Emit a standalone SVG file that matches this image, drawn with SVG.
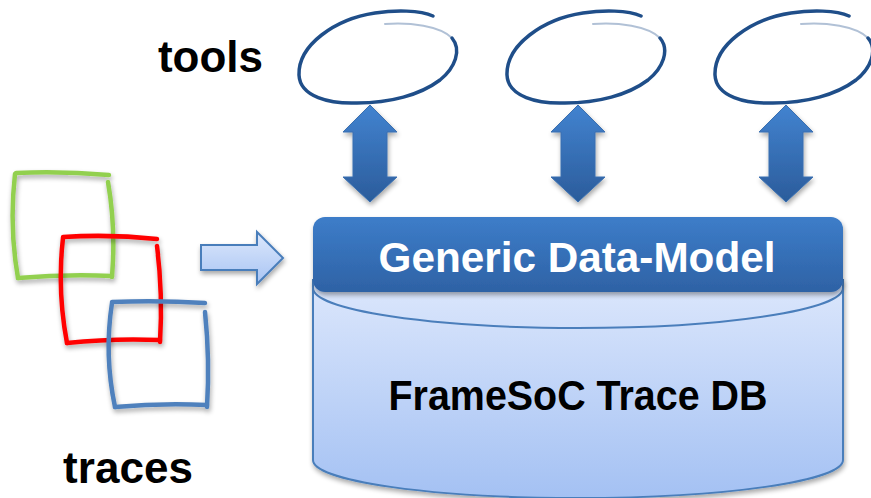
<svg xmlns="http://www.w3.org/2000/svg" xmlns:xlink="http://www.w3.org/1999/xlink" width="871" height="498" viewBox="0 0 871 498">
<style>
  .lbl{font-family:"Liberation Sans",Arial,sans-serif;font-weight:bold;}
  .loop{fill:none;stroke:#1f4e89;stroke-width:3.5;stroke-linecap:round;}
  .loopfade{fill:none;stroke:#1f4e89;stroke-width:2;stroke-linecap:round;opacity:0.35;}
  .sq{fill:none;stroke-width:4.5;stroke-linecap:round;}
  .dbl{fill:url(#gArrow);stroke:#3a6fb0;stroke-width:1;filter:url(#sh);}
</style>
<defs>
  <linearGradient id="gArrow" x1="0" y1="0" x2="0" y2="1">
    <stop offset="0" stop-color="#4283d0"/>
    <stop offset="1" stop-color="#2b5c9b"/>
  </linearGradient>
  <linearGradient id="gHead" x1="0" y1="0" x2="0" y2="1">
    <stop offset="0" stop-color="#3d7dc9"/>
    <stop offset="1" stop-color="#2e62a5"/>
  </linearGradient>
  <linearGradient id="gBody" x1="0" y1="0" x2="0" y2="1">
    <stop offset="0" stop-color="#dce7fc"/>
    <stop offset="1" stop-color="#a4c1f3"/>
  </linearGradient>
  <linearGradient id="gRight" x1="0" y1="0" x2="0" y2="1">
    <stop offset="0" stop-color="#dde8fc"/>
    <stop offset="1" stop-color="#a8c4f3"/>
  </linearGradient>
  <filter id="sh" x="-20%" y="-20%" width="140%" height="150%">
    <feGaussianBlur in="SourceAlpha" stdDeviation="2.5"/>
    <feOffset dx="1" dy="3" result="b"/>
    <feComponentTransfer><feFuncA type="linear" slope="0.35"/></feComponentTransfer>
    <feMerge><feMergeNode/><feMergeNode in="SourceGraphic"/></feMerge>
  </filter>
  <g id="loopShape">
    <path class="loop" d="M433,16 C420,10 395,10 375,13 C335,19 298,45 299,75 C300,97 330,104 357,103 C390,103 420,95 440,80 C455,68 462,50 452,38"/>
    <path class="loopfade" d="M452,38 C440,26 410,22 385,24"/>
  </g>
</defs>

<rect width="871" height="498" fill="#ffffff"/>

<text class="lbl" x="158" y="72" font-size="44" textLength="105">tools</text>
<text class="lbl" x="63" y="483" font-size="44" textLength="130">traces</text>

<g id="tool1"><use xlink:href="#loopShape"/></g>
<g id="tool2"><use xlink:href="#loopShape" x="208"/></g>
<g id="tool3"><use xlink:href="#loopShape" x="416"/></g>

<g id="trace-green" stroke="#92d050" class="sq" filter="url(#sh)">
  <path d="M16,173 Q62,171 109,175"/>
  <path d="M108,182 Q116,228 112,277"/>
  <path d="M18,278 Q65,274 112,276"/>
  <path d="M15,174 Q9,227 18,278"/>
</g>
<g id="trace-red" stroke="#ff0000" class="sq" filter="url(#sh)">
  <path d="M63,237 Q110,234 157,239"/>
  <path d="M157,246 Q163,295 160,342"/>
  <path d="M67,343 Q113,338 160,340"/>
  <path d="M63,238 Q57,290 67,343"/>
</g>
<g id="trace-blue" stroke="#4f81bd" class="sq" filter="url(#sh)">
  <path d="M112,302 Q158,300 205,303"/>
  <path d="M205,312 Q210,360 207,407"/>
  <path d="M115,407 Q160,403 207,405"/>
  <path d="M112,303 Q104,355 115,407"/>
</g>

<g id="db">
  <path d="M313,280 L313,460 A265,38 0 0 0 843,460 L843,280 Z" fill="url(#gBody)" stroke="#4a7ebb" stroke-width="2" filter="url(#sh)"/>
  <path d="M313,288 A265,40 0 0 0 843,288" fill="none" stroke="#4a7ebb" stroke-width="2"/>
  <rect x="313" y="217" width="530" height="75" rx="12" fill="url(#gHead)" filter="url(#sh)"/>
  <text class="lbl" x="577" y="272" font-size="42" fill="#ffffff" text-anchor="middle" textLength="397" lengthAdjust="spacingAndGlyphs">Generic Data-Model</text>
  <text class="lbl" x="578" y="410" font-size="42" fill="#000000" text-anchor="middle" textLength="379" lengthAdjust="spacingAndGlyphs">FrameSoC Trace DB</text>
</g>

<g id="connectors">
  <polygon class="dbl" points="370,105 397,132 387,132 387,177 397,177 370,202 343,177 353,177 353,132 343,132"/>
  <polygon class="dbl" points="578,105 605,132 595,132 595,177 605,177 578,202 551,177 561,177 561,132 551,132"/>
  <polygon class="dbl" points="786,105 813,132 803,132 803,177 813,177 786,202 759,177 769,177 769,132 759,132"/>
  <polygon points="201,245 257,245 257,232 283,258 257,284 257,270 201,270" fill="url(#gRight)" stroke="#4a7ebb" stroke-width="2" filter="url(#sh)"/>
</g>
</svg>
